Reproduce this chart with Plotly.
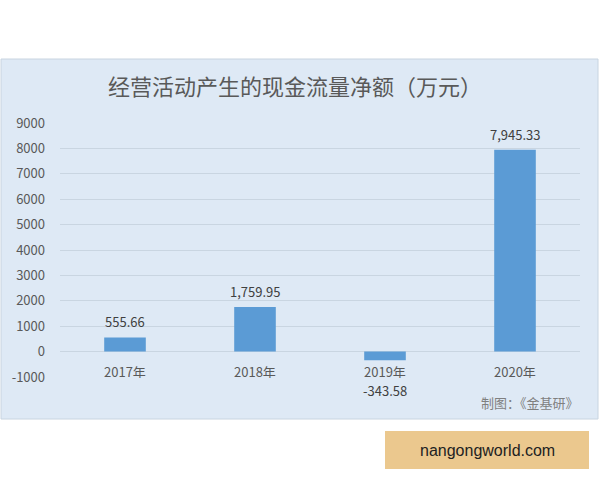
import plotly.graph_objects as go

categories = ["2017年", "2018年", "2019年", "2020年"]
values = [555.66, 1759.95, -343.58, 7945.33]
value_labels = ["555.66", "1,759.95", "-343.58", "7,945.33"]
tick_vals = list(range(-1000, 9001, 1000))
tick_text = [str(v) for v in tick_vals]
title_text = "经营活动产生的现金流量净额（万元）"
source_text = "制图：《金基研》"
watermark_text = "nangongworld.com"

FONT = "Noto Sans CJK SC"
GRAY = "#595959"

fig = go.Figure()
fig.add_trace(go.Bar(
    x=categories, y=values, marker_color="#5B9BD5",
    marker_line_width=0, hoverinfo="x+y", showlegend=False,
))

# plot area: x 60..580, y 123..377 px
L, R, T, B = 60, 20, 123, 103
W, H = 600, 480
pw, ph = W - L - R, H - T - B

def px_x(p):
    return (p - L) / pw

def px_y(p):
    return (H - B - p) / ph

shapes = [
    dict(type="rect", xref="paper", yref="paper", layer="below",
         x0=px_x(1), x1=px_x(598), y0=px_y(419), y1=px_y(59),
         fillcolor="#DEE9F5", line=dict(color="#C8D4E0", width=1)),
    dict(type="rect", xref="paper", yref="paper", layer="below",
         x0=px_x(385), x1=px_x(589), y0=px_y(469), y1=px_y(431),
         fillcolor="#EBC88E", line=dict(width=0)),
]

annotations = []
for c, v, t in zip(categories, values, value_labels):
    # category label just below zero line
    annotations.append(dict(x=c, y=0, xref="x", yref="y", text=c, showarrow=False,
                            yanchor="middle", yshift=-19, height=14,
                            font=dict(family=FONT, size=13, color=GRAY)))
    if v >= 0:
        annotations.append(dict(x=c, y=v, xref="x", yref="y", text=t, showarrow=False,
                                yanchor="bottom", yshift=4,
                                font=dict(family=FONT, size=13, color="#404040")))
    else:
        annotations.append(dict(x=c, y=v, xref="x", yref="y", text=t, showarrow=False,
                                yanchor="middle", yshift=-30, height=14,
                                font=dict(family=FONT, size=13, color="#404040")))

annotations.append(dict(x=px_x(581), y=px_y(402), xref="paper", yref="paper",
                        text=source_text, showarrow=False, xanchor="right", yanchor="middle",
                        font=dict(family=FONT, size=13, color="#7F7F7F")))
annotations.append(dict(x=px_x(487), y=px_y(450), xref="paper", yref="paper",
                        text=watermark_text, showarrow=False, xanchor="center", yanchor="middle",
                        font=dict(family="Liberation Sans", size=16, color="#222222")))

fig.update_layout(
    width=W, height=H,
    margin=dict(l=L, r=R, t=T, b=B),
    paper_bgcolor="white", plot_bgcolor="rgba(0,0,0,0)",
    bargap=0.68,
    title=dict(text=title_text, x=px_x(295), xref="paper", xanchor="center",
               y=1 - 87 / H, yref="container", yanchor="middle",
               font=dict(family=FONT, size=22, color=GRAY)),
    xaxis=dict(showticklabels=False, showgrid=False, zeroline=False, showline=False, ticks=""),
    yaxis=dict(range=[-1000, 9000], tickvals=tick_vals, ticktext=tick_text,
               showgrid=True, gridcolor="#C9D5E1", gridwidth=1,
               zeroline=True, zerolinecolor="#C9D5E1", zerolinewidth=1,
               showline=False, ticks="", ticklabelstandoff=14,
               tickfont=dict(family=FONT, size=13, color=GRAY)),
    shapes=shapes, annotations=annotations,
    font=dict(family=FONT),
)

fig.write_html("out.html", config={"displayModeBar": False},
               post_script="document.body.style.margin='0px';")
